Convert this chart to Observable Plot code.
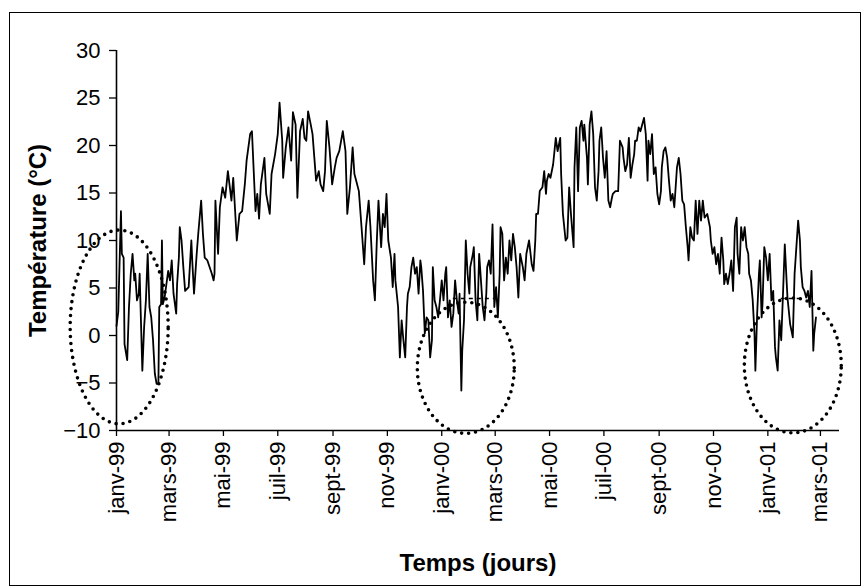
<!DOCTYPE html>
<html><head><meta charset="utf-8">
<script src="https://cdn.jsdelivr.net/npm/d3@7"></script>
<script src="https://cdn.jsdelivr.net/npm/@observablehq/plot@0.6"></script>
<style>
body{margin:0;background:#fff;}
#wrap{position:relative;width:865px;height:588px;overflow:hidden;}
#border{position:absolute;left:9px;top:12px;width:852px;height:574px;border:1.5px solid #000;box-sizing:border-box;}
#chart{position:absolute;left:0;top:0;}
</style></head><body>
<div id="wrap"><div id="border"></div><div id="chart"></div></div>
<script>
// Days counted from 1 Jan 1999
const days = [0,2,5,6,8,9,12,14,16,18,20,21,23,25,26,27,29,31,33,35,37,39,41,43,45,47,48,50,51,52,54,58,60,62,64,67,68,70,71,73,75,77,81,84,85,87,90,92,95,97,99,102,107,109,110,111,114,116,119,122,125,129,131,135,138,141,144,146,150,152,156,158,160,162,166,168,172,174,178,181,183,186,187,190,193,196,198,201,203,206,209,211,213,215,218,220,224,227,229,232,234,236,239,242,245,247,250,254,257,259,262,265,267,269,272,275,278,280,283,285,288,290,292,294,297,299,301,303,305,308,310,312,313,316,318,320,322,324,326,327,329,331,333,335,337,339,341,342,344,346,348,350,352,354,355,357,359,361,363,365,367,369,370,372,374,376,378,380,382,384,385,387,388,390,392,394,396,397,400,401,403,405,407,409,411,413,415,416,418,420,422,424,426,428,430,431,433,435,437,439,441,443,445,447,449,451,453,456,458,460,463,466,468,470,471,473,475,478,480,482,483,485,487,490,493,495,498,499,501,504,506,508,510,513,514,516,518,520,522,524,525,528,529,531,533,535,537,539,541,542,544,546,548,550,552,554,556,557,560,563,565,568,569,571,573,575,577,579,581,582,584,586,588,590,592,594,596,597,599,601,603,605,607,609,611,612,614,616,618,620,622,624,626,627,629,631,633,635,637,639,641,642,644,646,648,650,652,654,656,658,660,663,666,667,669,671,673,675,677,679,681,682,684,686,688,690,692,694,696,697,699,701,703,705,707,709,710,712,714,716,717,719,721,722,724,725,727,729,731,733,735,737,739,740,742,744,746,748,750,752,753,756,759,761,763,765,767,768,770,772,774,776,778,780,782,783,785];
const temps = [1.0,2.5,13.1,8.6,8.2,-0.9,-2.6,3.0,6.5,8.6,5.8,6.5,3.7,4.4,6.5,3.0,-3.7,0.9,3.7,8.6,3.0,1.9,-0.5,-4.0,-5.1,-5.1,3.0,3.3,10.0,3.3,4.0,6.8,5.8,7.9,4.4,2.3,5.4,8.2,11.4,10.0,7.2,4.7,5.1,10.0,7.9,4.4,8.6,11.0,14.2,10.7,8.2,7.9,6.5,5.8,6.5,14.2,8.6,13.5,15.6,14.5,17.3,14.2,16.6,10.0,12.8,13.1,15.9,18.4,21.2,21.5,13.1,14.9,12.3,15.9,18.7,14.9,12.8,17.0,19.1,21.2,24.5,20.5,16.6,19.8,21.9,18.4,23.5,22.2,14.5,21.5,22.8,20.8,20.5,23.6,22.2,21.2,16.3,17.3,15.9,15.2,17.3,22.6,19.8,15.9,17.7,18.7,19.4,21.5,19.4,12.8,15.6,19.8,17.0,16.3,15.2,11.4,7.5,11.4,14.2,11.4,5.8,3.7,9.6,14.2,9.3,12.8,11.4,14.9,10.0,8.2,5.1,8.6,5.8,3.0,-2.3,1.6,-0.5,-2.3,3.0,4.4,5.1,7.2,8.2,6.5,7.2,4.4,7.9,7.2,4.7,0.2,1.9,1.6,-2.3,-0.5,7.2,3.7,3.0,1.9,3.7,5.8,3.7,6.5,7.2,1.9,3.7,0.9,2.3,5.8,3.7,2.3,4.4,-5.8,-1.6,1.6,10.0,6.5,4.4,7.2,8.6,9.3,3.7,1.6,8.6,5.8,3.0,1.6,4.4,7.2,7.9,6.5,11.7,3.0,5.1,1.9,6.5,11.4,10.7,5.8,8.2,6.5,10.0,7.9,10.7,9.3,7.2,4.0,8.6,7.2,5.8,8.6,10.0,7.5,6.8,10.0,12.8,12.8,15.2,15.6,17.3,14.9,16.3,17.0,16.6,18.0,20.8,19.4,20.8,17.0,12.8,10.0,10.3,15.6,12.8,9.3,17.7,21.9,15.2,21.9,22.6,20.5,22.2,18.7,15.9,22.2,23.6,21.2,15.6,14.2,17.3,20.5,21.9,18.7,16.6,19.4,14.2,13.5,14.5,14.9,15.2,15.2,20.5,19.8,18.7,17.3,18.0,20.8,16.6,18.0,19.1,20.5,20.5,21.9,21.5,22.2,22.9,21.2,16.3,20.5,19.1,21.2,17.0,17.7,14.9,13.8,15.2,17.7,19.4,19.8,18.7,16.3,14.2,14.9,13.5,14.9,17.7,18.7,17.0,14.2,13.8,11.4,9.3,7.9,11.4,10.3,10.0,14.2,10.7,14.2,12.1,14.2,12.4,12.8,11.4,10.0,8.6,9.3,7.5,8.6,6.5,10.3,7.9,5.4,6.5,5.4,6.5,7.9,4.7,11.4,12.4,8.6,6.5,11.4,10.0,11.4,9.3,8.6,6.5,5.8,3.7,0.2,-3.7,2.3,6.5,7.9,1.9,3.3,9.3,8.2,5.8,8.6,3.7,4.7,-1.2,-2.3,-3.7,1.6,-0.5,4.4,9.6,5.8,4.0,1.2,-0.2,6.5,9.3,12.1,10.0,7.2,5.1,4.7,4.0,4.7,3.0,6.8,-1.6,0.2,1.9];

const tickDateStrings = ["1999-01-01","1999-03-01","1999-05-01","1999-07-01","1999-09-01","1999-11-01","2000-01-01","2000-03-01","2000-05-01","2000-07-01","2000-09-01","2000-11-01","2001-01-01","2001-03-01"];
const tickLabels = ["janv-99","mars-99","mai-99","juil-99","sept-99","nov-99","janv-00","mars-00","mai-00","juil-00","sept-00","nov-00","janv-01","mars-01"];
const yTicks = [-10,-5,0,5,10,15,20,25,30];
const yTitle = "Température (°C)";
const xTitle = "Temps (jours)";

// dotted ellipses (centre day, centre °C, half-width in days, half-height in °C)
const ellipseCenterDays = [3, 392, 759];
const ellipseCenterTemps = [0.9, -3.4, -3.15];
const ellipseRadiusDays = [55, 54.4, 54.4];
const ellipseRadiusTemps = [10.2, 6.9, 7.1];

// dashed segments at ~3.9 °C
const dashStartDays = [378, 746];
const dashEndDays = [427, 772];
const dashTemp = 3.9;

const startMs = Date.UTC(1999, 0, 1);
const day = d => new Date(startMs + d * 864e5);
const rows = days.map((d, i) => ({date: day(d), temp: temps[i]}));
const tickDates = tickDateStrings.map(s => new Date(s + "T00:00:00Z"));
const labelMap = new Map(tickDates.map((d, i) => [+d, tickLabels[i]]));

const ellRows = [];
ellipseCenterDays.forEach((cd, k) => {
  for (let j = 0; j <= 180; j++) {
    const t = j / 180 * 2 * Math.PI;
    ellRows.push({id: k, date: day(cd + ellipseRadiusDays[k] * Math.cos(t)), temp: ellipseCenterTemps[k] + ellipseRadiusTemps[k] * Math.sin(t)});
  }
});
const dashRows = dashStartDays.map((s, i) => ({x1: day(s), x2: day(dashEndDays[i])}));

const chart = Plot.plot({
  width: 865, height: 588,
  marginLeft: 116, marginRight: 26, marginTop: 50, marginBottom: 158,
  style: {fontFamily: "'Liberation Sans', Arial, sans-serif", background: "transparent", color: "#000", overflow: "visible"},
  x: {type: "utc", domain: [day(0), day(811.4)]},
  y: {domain: [-10, 30]},
  marks: [
    Plot.axisY({ticks: yTicks, tickSize: 7, tickPadding: 9, fontSize: 22, label: null, strokeWidth: 1.3}),
    Plot.axisX({ticks: tickDates, tickFormat: d => labelMap.get(+d), tickRotate: -90, tickSize: 6, tickPadding: 5, fontSize: 22, label: null, strokeWidth: 1.3}),
    Plot.ruleX([day(0)], {stroke: "#000", strokeWidth: 1.6}),
    Plot.ruleY([-10], {stroke: "#000", strokeWidth: 1.6}),
    Plot.line(rows, {x: "date", y: "temp", stroke: "#000", strokeWidth: 1.8}),
    Plot.ruleY(dashRows, {y: () => dashTemp, x1: "x1", x2: "x2", stroke: "#000", strokeWidth: 1.6, strokeDasharray: "4 4"}),
    Plot.line(ellRows, {x: "date", y: "temp", z: "id", stroke: "#000", strokeWidth: 3.6, strokeDasharray: "0 7", strokeLinecap: "round"}),
    Plot.text([yTitle], {text: d => d, frameAnchor: "left", dx: -78, rotate: -90, textAnchor: "middle", fontSize: 24, fontWeight: "bold"}),
    Plot.text([xTitle], {text: d => d, frameAnchor: "bottom", dy: 140, textAnchor: "middle", fontSize: 24, fontWeight: "bold"})
  ]
});
document.getElementById("chart").appendChild(chart);
</script>
</body></html>
